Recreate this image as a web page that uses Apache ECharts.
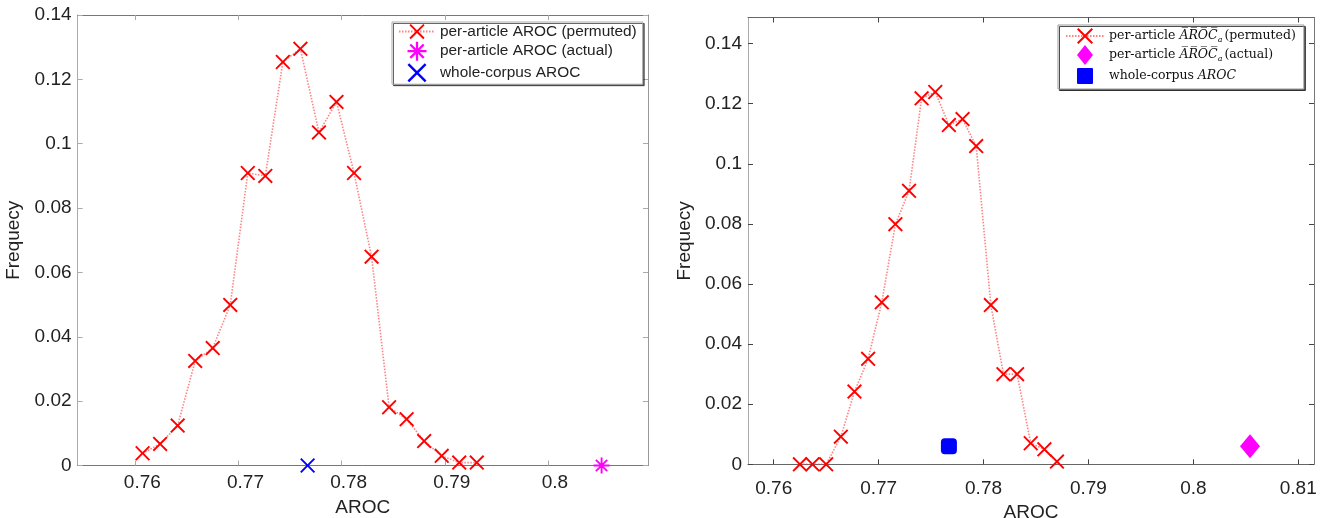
<!DOCTYPE html>
<html>
<head>
<meta charset="utf-8">
<script src="https://cdn.jsdelivr.net/npm/echarts@6/dist/echarts.min.js"></script>
<style>
html,body{margin:0;padding:0;background:#fff;}
#l,#r{position:absolute;top:0;width:662px;height:518px;}
#l{left:0;} #r{left:662px;}
</style>
</head>
<body>
<div id="l"></div><div id="r"></div>
<script>
// ---------- data ----------
const leftAroc = [0.7607,0.7624,0.7641,0.7658,0.7675,0.7692,0.7709,0.7726,0.7743,0.7760,0.7778,0.7795,0.7812,0.7829,0.7846,0.7863,0.7880,0.7897,0.7914,0.7931];
const leftFreq = [0.0038,0.0067,0.0124,0.0325,0.0365,0.0499,0.0909,0.0900,0.1254,0.1295,0.1035,0.1130,0.0909,0.0649,0.0181,0.0144,0.0076,0.0030,0.0009,0.0009];
const leftActual = [0.8052, 0];
const leftCorpus = [0.7767, 0];

const rightAroc = [0.7625,0.7637,0.7650,0.7664,0.7677,0.7690,0.7703,0.7716,0.7729,0.7741,0.7754,0.7767,0.7780,0.7793,0.7807,0.7819,0.7832,0.7845,0.7858,0.7870];
const rightFreq = [0,0,0,0.0092,0.0242,0.0351,0.0539,0.0799,0.0910,0.1218,0.1239,0.1129,0.1149,0.1059,0.0530,0.0300,0.0300,0.0070,0.0050,0.0009];
const rightActual = [0.8054, 0.006];
const rightCorpus = [0.7767, 0.006];

const leftXTicks = [0.76,0.77,0.78,0.79,0.8];
const rightXTicks = [0.76,0.77,0.78,0.79,0.8,0.81];
const yTicks = [0,0.02,0.04,0.06,0.08,0.1,0.12,0.14];

const leftNames = ['per-article AROC (permuted)','per-article AROC (actual)','whole-corpus AROC'];
const rightNames = ['per-article AROCₐ(permuted)','per-article AROCₐ(actual)','whole-corpus AROC'];

// ---------- styling helpers ----------
const X_PATH = 'path://M0,0.9L0.9,0L5,4.1L9.1,0L10,0.9L5.9,5L10,9.1L9.1,10L5,5.9L0.9,10L0,9.1L4.1,5Z';
const STAR_PATH = 'path://M10,5.6L10,4.4L0,4.4L0,5.6Z M4.4,10L5.6,10L5.6,0L4.4,0Z M8.11,8.96L8.96,8.11L1.89,1.04L1.04,1.89Z M1.04,8.11L1.89,8.96L8.96,1.89L8.11,1.04Z';
const DIAMOND_PATH = 'path://M10,0L20,12.5L10,25L0,12.5Z';
const SQUARE_PATH = 'path://M0,0M20,20M3,2L17,2Q18,2 18,3L18,17Q18,18 17,18L3,18Q2,18 2,17L2,3Q2,2 3,2Z';
const FONT = 'Liberation Sans';

function pairs(xs, ys){ return xs.map((x,i)=>[x, ys[i]]); }

function xAxes(min, max, ticks, lineCol, tickCol, labelMargin, labelPad, nameGap){
  return [
    {type:'value', position:'bottom', min, max, name:'AROC', nameLocation:'middle', nameGap,
     nameTextStyle:{fontFamily:FONT, fontSize:19, color:'#222'},
     axisLine:{show:true, onZero:false, lineStyle:{color:lineCol, width:1}},
     axisTick:{show:true, inside:true, length:5, customValues:ticks, lineStyle:{color:tickCol}},
     axisLabel:{show:true, customValues:ticks, margin:labelMargin, padding:labelPad, fontFamily:FONT, fontSize:19, color:'#222', formatter:v=>String(v)},
     splitLine:{show:false}},
    {type:'value', position:'top', min, max,
     axisLine:{show:true, onZero:false, lineStyle:{color:lineCol, width:1}},
     axisTick:{show:true, inside:true, length:5, customValues:ticks, lineStyle:{color:tickCol}},
     axisLabel:{show:false}, splitLine:{show:false}}
  ];
}
function yAxes(min, max, ticks, nameGap, leftCol, rightCol, tickCol){
  return [
    {type:'value', position:'left', min, max, name:'Frequecy', nameLocation:'middle', nameGap,
     nameTextStyle:{fontFamily:FONT, fontSize:19, color:'#222'},
     axisLine:{show:true, onZero:false, lineStyle:{color:leftCol, width:1}},
     axisTick:{show:true, inside:true, length:5, customValues:ticks, lineStyle:{color:tickCol}},
     axisLabel:{show:true, customValues:ticks, margin:6, fontFamily:FONT, fontSize:19, color:'#222', formatter:v=>String(v)},
     splitLine:{show:false}},
    {type:'value', position:'right', min, max,
     axisLine:{show:true, onZero:false, lineStyle:{color:rightCol, width:1}},
     axisTick:{show:true, inside:true, length:5, customValues:ticks, lineStyle:{color:tickCol}},
     axisLabel:{show:false}, splitLine:{show:false}}
  ];
}

// ---------- left chart ----------
const cl = echarts.init(document.getElementById('l'), null, {renderer:'canvas'});
cl.setOption({
  animation:false,
  backgroundColor:'#fff',
  grid:{left:77.6, top:15, width:570.4, height:450.5, outerBoundsMode:'none', containLabel:false},
  xAxis: xAxes(0.7544, 0.8097, leftXTicks, '#777', '#aaa', 8, [0,0,0,14], 33),
  yAxis: yAxes(0, 0.14, yTicks, 51, '#aaa', '#999', '#aaa'),
  legend:{
    orient:'vertical', left:392, top:22, padding:[2,6,2,6], itemGap:2.5, itemWidth:36, itemHeight:19,
    backgroundColor:'#fff', borderColor:'#aaa', borderWidth:1,
    shadowColor:'rgba(0,0,0,0.6)', shadowOffsetX:1.5, shadowOffsetY:1.5, shadowBlur:0,
    selectedMode:false,
    textStyle:{fontFamily:FONT, fontSize:15.4, color:'#222'},
    data:[{name:leftNames[0]},{name:leftNames[1], icon:STAR_PATH},{name:leftNames[2], icon:X_PATH}]
  },
  series:[
    {name:leftNames[0], type:'line', data:pairs(leftAroc, leftFreq), xAxisIndex:0, yAxisIndex:0,
     symbol:X_PATH, symbolSize:15, clip:false, z:3,
     itemStyle:{color:'#ff0000', opacity:1},
     lineStyle:{color:'#ff3030', width:1.6, type:[1.5,1.5], opacity:0.6}},
    {name:leftNames[1], type:'scatter', data:[leftActual], xAxisIndex:0, yAxisIndex:0,
     symbol:STAR_PATH, symbolSize:16, clip:false, z:4, itemStyle:{color:'#ff00ff', opacity:1}},
    {name:leftNames[2], type:'scatter', data:[leftCorpus], xAxisIndex:0, yAxisIndex:0,
     symbol:X_PATH, symbolSize:15, clip:false, z:4, itemStyle:{color:'#0000ff', opacity:1}}
  ]
});

// ---------- right chart ----------
const SERIF = 'DejaVu Serif';
const cr = echarts.init(document.getElementById('r'), null, {renderer:'canvas'});
cr.setOption({
  animation:false,
  backgroundColor:'#fff',
  grid:{left:86, top:17.5, width:566, height:446.8, outerBoundsMode:'none', containLabel:false},
  xAxis: xAxes(0.75755, 0.8115, rightXTicks, '#666', '#444', 15, 0, 35),
  yAxis: yAxes(0, 0.1487, yTicks, 49.5, '#aaa', '#777', '#444'),
  legend:{
    orient:'vertical', left:396, top:25, padding:[3,8,3,7], itemGap:1, itemWidth:38, itemHeight:20,
    backgroundColor:'#fff', borderColor:'#999', borderWidth:1,
    shadowColor:'rgba(0,0,0,0.7)', shadowOffsetX:1.5, shadowOffsetY:1.5, shadowBlur:0,
    selectedMode:false,
    formatter:function(name){
      const m = name.match(/^per-article AROCₐ\((.*)\)$/);
      if (m) return '{n|per-article }{i|A\u0305R\u0305O\u0305C\u0305}{s|a}{n|(' + m[1] + ')}';
      return '{n|whole-corpus }{i|AROC}';
    },
    textStyle:{fontFamily:SERIF, fontSize:12.5, color:'#111',
      rich:{
        n:{fontFamily:SERIF, fontSize:12.5, color:'#111', lineHeight:16},
        i:{fontFamily:SERIF, fontStyle:'italic', fontSize:12.5, color:'#111', lineHeight:16},
        s:{fontFamily:SERIF, fontStyle:'italic', fontSize:8, color:'#111', lineHeight:9, verticalAlign:'bottom', padding:[0,2,0,0]}
      }},
    data:[{name:rightNames[0]},{name:rightNames[1], icon:DIAMOND_PATH},{name:rightNames[2], icon:SQUARE_PATH}]
  },
  series:[
    {name:rightNames[0], type:'line', data:pairs(rightAroc, rightFreq), xAxisIndex:0, yAxisIndex:0,
     symbol:X_PATH, symbolSize:15, clip:false, z:3,
     itemStyle:{color:'#ff0000', opacity:1},
     lineStyle:{color:'#ff3030', width:1.6, type:[1.5,1.5], opacity:0.6}},
    {name:rightNames[1], type:'scatter', data:[rightActual], xAxisIndex:0, yAxisIndex:0,
     symbol:'diamond', symbolSize:[20,24], clip:false, z:4, itemStyle:{color:'#ff00ff', opacity:1}},
    {name:rightNames[2], type:'scatter', data:[rightCorpus], xAxisIndex:0, yAxisIndex:0,
     symbol:'roundRect', symbolSize:16, clip:false, z:4, itemStyle:{color:'#0000ff', opacity:1}}
  ]
});
</script>
</body>
</html>
